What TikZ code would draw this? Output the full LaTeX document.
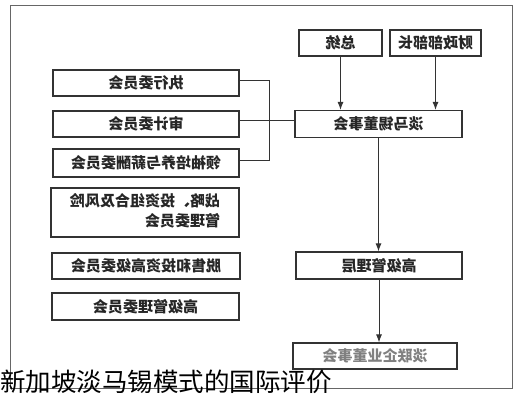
\documentclass[tikz,border=0pt]{standalone}
\usepackage{fontspec}
\usepackage{graphicx}
\usepackage{tikz}
\usetikzlibrary{arrows.meta}
\newfontfamily\cjk{Noto Sans CJK SC}
\tikzset{
  orgbox/.style={draw=black!80, line width=1.2pt, inner sep=0pt, text=black!85,
    font=\cjk\bfseries\fontsize{15}{20}\selectfont},
  link/.style={draw=black!80, line width=0.9pt},
  flow/.style={link, -{Latex[length=8pt,width=6pt]}}
}
\newcommand{\flip}[1]{\reflectbox{#1}}

\begin{document}
\begin{tikzpicture}[x=1pt,y=-1pt]
    \useasboundingbox (0,0) rectangle (524,400);
    \draw [black!60,line width=0.7pt] (10,5) rectangle (512,388);

    \node [orgbox,minimum width=83pt,minimum height=26pt] (president) at (340.5,43) {\flip{总统}};
    \node [orgbox,minimum width=91pt,minimum height=26pt] (finmin) at (435.5,43) {\flip{财政部部长}};
    \node [orgbox,minimum width=167pt,minimum height=27pt] (board) at (378.5,124) {\flip{淡马锡董事会}};

    \node [orgbox,minimum width=186pt,minimum height=26pt] (exec) at (146,83) {\flip{执行委员会}};
    \node [orgbox,minimum width=186pt,minimum height=26pt] (audit) at (146,124) {\flip{审计委员会}};
    \node [orgbox,minimum width=186pt,minimum height=28pt] (lead) at (146,163) {\flip{领袖培养与薪酬委员会}};
    \node [orgbox,minimum width=188pt,minimum height=49pt] (strategy) at (145,212.5)
      {\flip{\begin{tabular}{@{}l@{}}战略、投资组合及风险\\管理委员会\end{tabular}}};
    \node [orgbox,minimum width=188pt,minimum height=26pt] (divest) at (146,266) {\flip{脱售和投资高级委员会}};
    \node [orgbox,minimum width=187pt,minimum height=27pt] (seniorcom) at (145.5,306.5) {\flip{高级管理委员会}};

    \node [orgbox,minimum width=166pt,minimum height=27pt] (mgmt) at (379,265.5) {\flip{高级管理层}};
    \node [orgbox,minimum width=164pt,minimum height=26pt,text=black!50] (glc) at (375,356) {\flip{淡联企业董事会}};

    \coordinate (brk) at (269,128);
    \draw [link] ([yshift=3pt]exec.east) -| (brk);
    \draw [link] ([yshift=3pt]lead.east) -| (brk);
    \draw [link] ([yshift=4pt]audit.east) -- ([yshift=4pt]board.west);

    \draw [flow] (president.south) -- (president.south |- board.north);
    \draw [flow] (finmin.south) -- (finmin.south |- board.north);
    \draw [flow] (board.south) -- (board.south |- mgmt.north);
    \draw [flow] (mgmt.south) -- (mgmt.south |- glc.north);

    \node [anchor=west,inner sep=0pt,font=\cjk\fontsize{25.5}{28}\selectfont] (caption) at (0,382) {新加坡淡马锡模式的国际评价};
\end{tikzpicture}
\end{document}
